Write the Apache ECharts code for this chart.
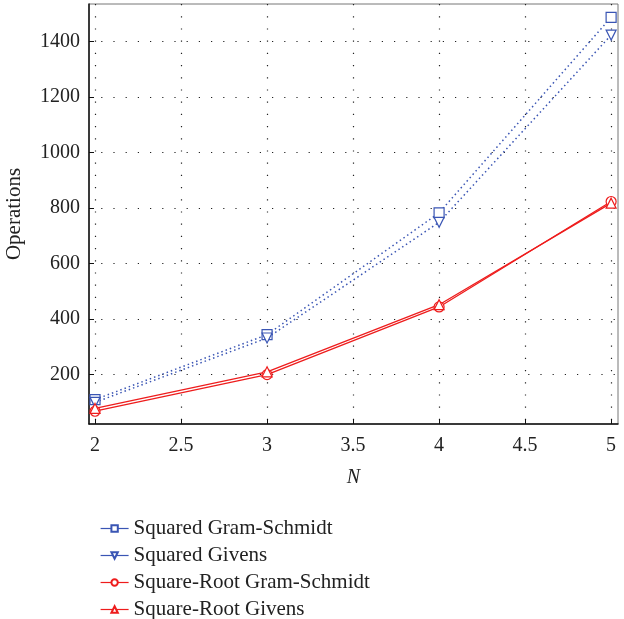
<!DOCTYPE html>
<html><head><meta charset="utf-8">
<script src="https://cdn.jsdelivr.net/npm/echarts@6/dist/echarts.min.js"></script>
<style>html,body{margin:0;padding:0;background:#fff}#c{width:624px;height:619px}</style>
</head><body><div id="c"></div>
<script>
const nValues = [2, 3, 4, 5];
const squaredGS = [110, 344, 783, 1488];
const squaredGivens = [100, 332, 749, 1424];
const sqrtGS = [68, 200, 444, 824];
const sqrtGivens = [78, 210, 452, 818];
const xTicks = [2, 2.5, 3, 3.5, 4, 4.5, 5];
const yTicks = [200, 400, 600, 800, 1000, 1200, 1400];
const seriesNames = ['Squared Gram-Schmidt', 'Squared Givens', 'Square-Root Gram-Schmidt', 'Square-Root Givens'];

const FONT = 'Liberation Serif';
const blue = '#3a55b4';
const red = '#ee1c1c';
const pairs = v => nValues.map((n, i) => [n, v[i]]);

function mk(name, data, color, symbol, dotted, rotate) {
  return {
    name, type: 'line', data: pairs(data), symbol, symbolSize: 10, symbolRotate: rotate || 0,
    showAllSymbol: true, clip: false,
    lineStyle: { color, width: dotted ? 1.5 : 1.3, type: dotted ? [1.5, 3] : 'solid' },
    itemStyle: { color: '#fff', borderColor: color, borderWidth: 1.2 },
    emphasis: { disabled: true }
  };
}

const chart = echarts.init(document.getElementById('c'), null, { renderer: 'canvas' });
chart.setOption({
  animation: false,
  textStyle: { fontFamily: FONT },
  grid: { left: 89, right: 6, top: 4, bottom: 195, containLabel: false, outerBoundsMode: 'none',
          show: true, borderColor: '#777', borderWidth: 1 },
  legend: {
    orient: 'vertical', left: 100, top: 518, height: 160, padding: 0, itemGap: 6, itemWidth: 28, itemHeight: 8,
    data: seriesNames,
    lineStyle: { type: 'solid', width: 1.2 },
    textStyle: { fontFamily: FONT, fontSize: 21, color: '#222' }
  },
  xAxis: {
    type: 'value', min: 1.965, max: 5.04,
    name: 'N', nameLocation: 'middle', nameGap: 44,
    nameTextStyle: { fontFamily: FONT, fontSize: 20, fontStyle: 'italic', color: '#222' },
    axisLine: { show: true, lineStyle: { color: '#111', width: 1.5 } },
    axisTick: { show: true, inside: true, length: 5, customValues: xTicks, lineStyle: { color: '#111' } },
    axisLabel: { customValues: xTicks, fontFamily: FONT, fontSize: 20, color: '#222', margin: 12,
                 formatter: v => String(v) },
    splitLine: { show: true, lineStyle: { color: '#222', type: [1.2, 11], width: 1.2 } }
  },
  yAxis: {
    type: 'value', min: 22, max: 1536,
    name: 'Operations', nameLocation: 'middle', nameGap: 64, nameRotate: 90,
    nameTextStyle: { fontFamily: FONT, fontSize: 21, color: '#222' },
    axisLine: { show: true, lineStyle: { color: '#111', width: 1.5 } },
    axisTick: { show: true, inside: true, length: 5, customValues: yTicks, lineStyle: { color: '#111' } },
    axisLabel: { customValues: yTicks, fontFamily: FONT, fontSize: 20, color: '#222', margin: 9,
                 formatter: v => String(v) },
    splitLine: { show: true, lineStyle: { color: '#222', type: [1.2, 11], width: 1.2 } }
  },
  series: [
    mk(seriesNames[0], squaredGS, blue, 'rect', true),
    mk(seriesNames[1], squaredGivens, blue, 'triangle', true, 180),
    mk(seriesNames[2], sqrtGS, red, 'circle', false),
    mk(seriesNames[3], sqrtGivens, red, 'triangle', false)
  ]
});
</script></body></html>
